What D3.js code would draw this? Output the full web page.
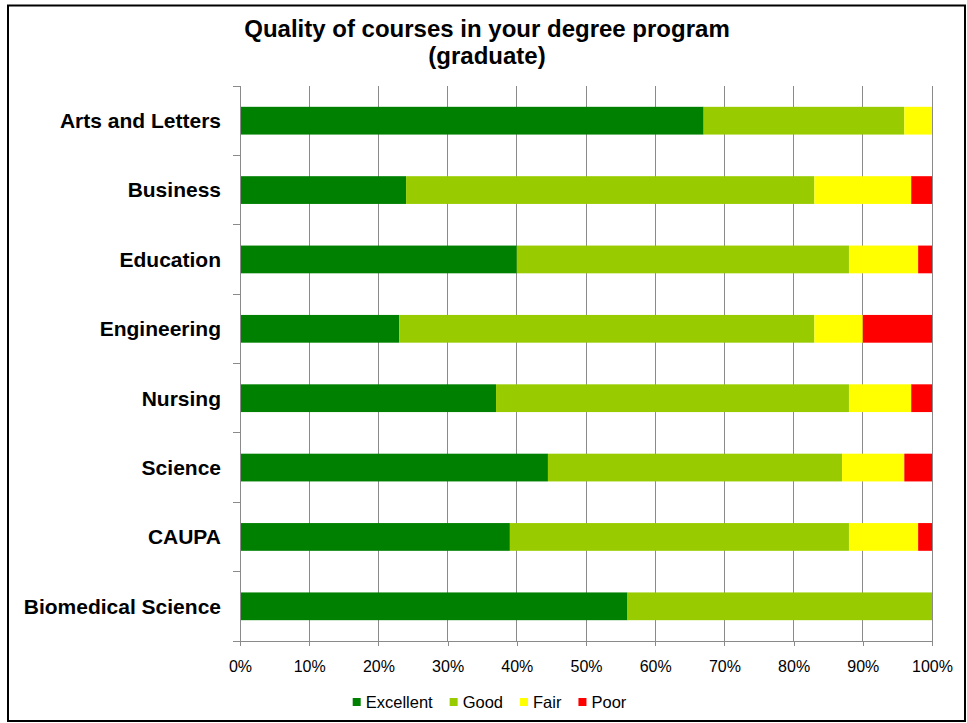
<!DOCTYPE html>
<html>
<head>
<meta charset="utf-8">
<script src="https://cdn.jsdelivr.net/npm/d3@7"></script>
<style>
  html, body { margin: 0; padding: 0; background: #fff; }
  svg { display: block; font-family: Arial, "Liberation Sans", sans-serif; }
</style>
</head>
<body>
<svg id="chart" width="967" height="723"></svg>
<script>
const categories = ["Arts and Letters", "Business", "Education", "Engineering", "Nursing", "Science", "CAUPA", "Biomedical Science"];
const seriesNames = ["Excellent", "Good", "Fair", "Poor"];
const excellent = [67, 24, 40, 23, 37, 44.5, 39, 56];
const good      = [29, 59, 48, 60, 51, 42.5, 49, 44];
const fair      = [4, 14, 10, 7, 9, 9, 10, 0];
const poor      = [0, 3, 2, 10, 3, 4, 2, 0];
const tickValues = [0, 10, 20, 30, 40, 50, 60, 70, 80, 90, 100];
const colors = ["#008000", "#99CC00", "#FFFF00", "#FF0000"];
const titleLines = ["Quality of courses in your degree program", "(graduate)"];

const svg = d3.select("#chart");
const W = 967, H = 723;
const plot = { left: 240, right: 932, top: 86, bottom: 641 };

svg.append("rect").attr("x", 0).attr("y", 0).attr("width", W).attr("height", H).attr("fill", "#fff");
svg.append("rect").attr("x", 8).attr("y", 5.5).attr("width", 957).attr("height", 715.5)
  .attr("fill", "none").attr("stroke", "#000").attr("stroke-width", 2);

// title
const title = svg.append("text").attr("x", 487).attr("text-anchor", "middle")
  .attr("font-weight", "bold").attr("font-size", 24).attr("fill", "#000");
titleLines.forEach((t, i) => title.append("tspan").attr("x", 487).attr("y", 37 + i * 27).text(t));

const x = d3.scaleLinear().domain([0, 100]).range([plot.left, plot.right]);
const y = d3.scaleBand().domain(categories).range([plot.top, plot.bottom]).paddingInner(0.6).paddingOuter(0.3);
const yBounds = d3.scaleLinear().domain([0, categories.length]).range([plot.top, plot.bottom]);

// gridlines
svg.append("g").selectAll("line").data(tickValues.slice(1)).join("line")
  .attr("x1", d => x(d)).attr("x2", d => x(d))
  .attr("y1", plot.top).attr("y2", plot.bottom)
  .attr("stroke", "#8a8a8a").attr("stroke-width", 1).attr("shape-rendering", "crispEdges");

// stacked data
const rows = categories.map((c, i) => ({ cat: c, Excellent: excellent[i], Good: good[i], Fair: fair[i], Poor: poor[i] }));
const stack = d3.stack().keys(seriesNames)(rows);

svg.append("g").selectAll("g").data(stack).join("g")
  .attr("fill", (d, i) => colors[i])
  .selectAll("rect").data(d => d.filter(s => s[1] - s[0] > 0)).join("rect")
  .attr("x", d => x(d[0]))
  .attr("width", d => x(d[1]) - x(d[0]))
  .attr("y", d => y(d.data.cat))
  .attr("height", y.bandwidth());

// y axis line and ticks
const axisColor = "#8a8a8a";
svg.append("line").attr("x1", plot.left).attr("x2", plot.left).attr("y1", plot.top).attr("y2", plot.bottom + 5)
  .attr("stroke", axisColor).attr("shape-rendering", "crispEdges");
svg.append("g").selectAll("line").data(d3.range(categories.length + 1)).join("line")
  .attr("x1", plot.left - 7).attr("x2", plot.left)
  .attr("y1", d => yBounds(d)).attr("y2", d => yBounds(d))
  .attr("stroke", axisColor).attr("shape-rendering", "crispEdges");

// x axis via d3
const xAxis = d3.axisBottom(x).tickValues(tickValues).tickSize(5).tickPadding(14)
  .tickFormat(d => d + "%");
const gx = svg.append("g").attr("transform", `translate(0,${plot.bottom})`).call(xAxis);
gx.select(".domain").attr("stroke", axisColor).attr("shape-rendering", "crispEdges");
gx.selectAll(".tick line").attr("stroke", axisColor).attr("shape-rendering", "crispEdges");
gx.selectAll(".tick text").attr("font-size", 16).attr("font-family", "Arial, 'Liberation Sans', sans-serif")
  .attr("fill", "#000").attr("dy", null).attr("y", 31);

// category labels
svg.append("g").selectAll("text").data(categories).join("text")
  .attr("x", 221).attr("y", d => y(d) + y.bandwidth() / 2)
  .attr("dy", "0.35em").attr("text-anchor", "end")
  .attr("font-weight", "bold").attr("font-size", 21).attr("fill", "#000")
  .text(d => d);

// legend
const legend = svg.append("g");
let lx = 0;
const items = [];
seriesNames.forEach((name, i) => {
  const g = legend.append("g");
  g.append("rect").attr("x", 0).attr("y", 698).attr("width", 8).attr("height", 8).attr("fill", colors[i]);
  const t = g.append("text").attr("x", 13).attr("y", 708).attr("font-size", 16.5).attr("fill", "#000").text(name);
  const w = t.node().getComputedTextLength();
  g.attr("transform", `translate(${lx},0)`);
  lx += 13 + w + 17;
});
const total = lx - 17;
legend.attr("transform", `translate(${489.5 - total / 2},0)`);
</script>
</body>
</html>
